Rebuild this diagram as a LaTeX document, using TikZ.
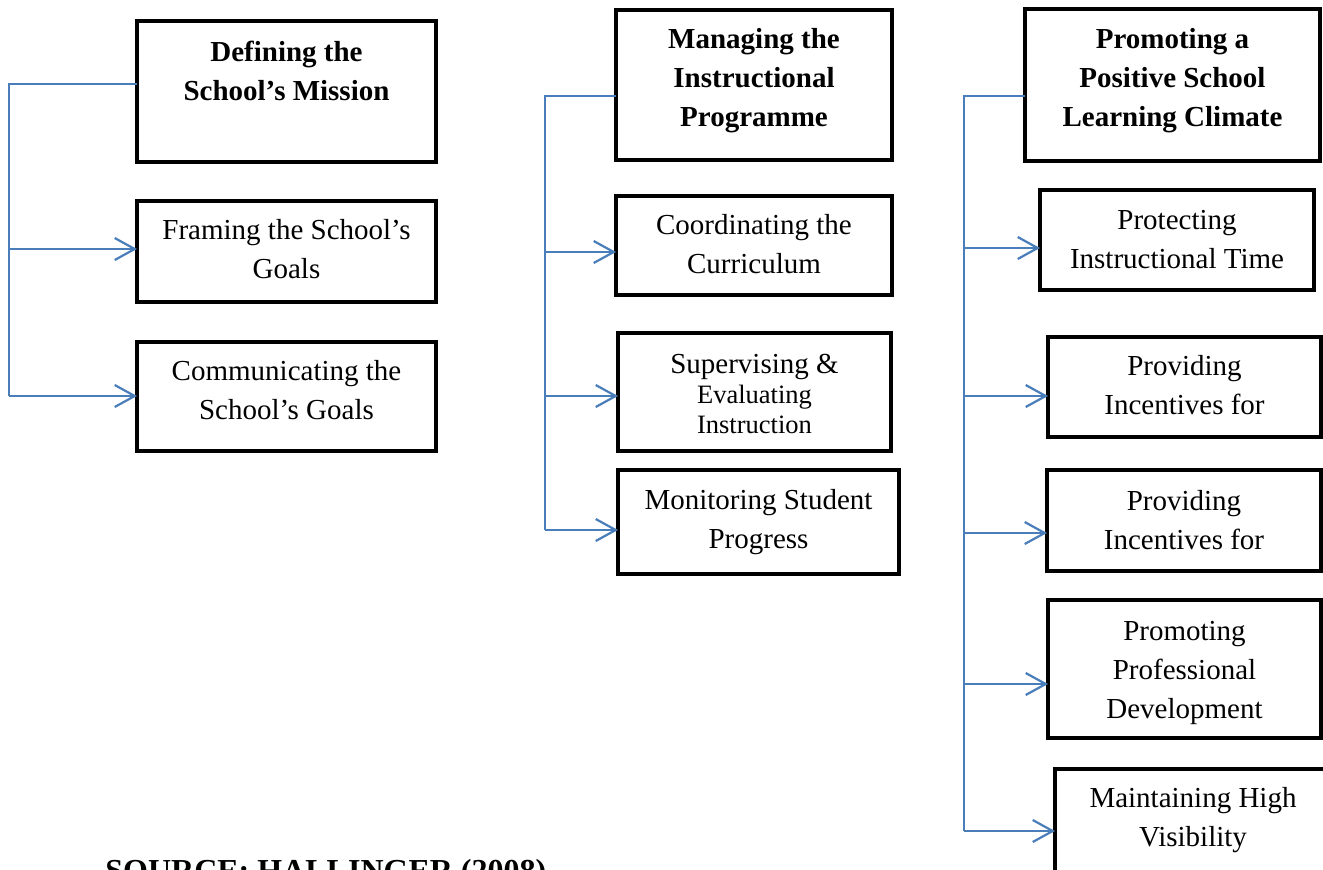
\documentclass[tikz,border=0pt]{standalone}
\usepackage{fontspec}
\setmainfont{Liberation Serif}
\usetikzlibrary{arrows.meta}
\definecolor{connblue}{HTML}{4A7EBB}
\newdimen\pxu \pxu=0.5pt
\newcommand{\bt}[4]{\parbox[t][#2\pxu][t]{#1\pxu}{\centering\rule{0pt}{#3\pxu}#4}}
\tikzset{
  bx/.style={draw=black, line width=2.4pt, inner sep=0pt, outer sep=0pt, anchor=north west,
    font=\fontsize{14.5}{19.5}\selectfont},
  hd/.style={bx, font=\bfseries\fontsize{14.5}{19.5}\selectfont},
  trunk/.style={draw=connblue, line width=1.1pt},
  arr/.style={draw=connblue, line width=1.1pt, -{Straight Barb[length=10pt,width=11pt]}},
}
\begin{document}
\begin{tikzpicture}[x=0.5pt,y=-0.5pt]
\useasboundingbox (0,0) rectangle (1323,869);
\clip (0,0) rectangle (1323,869);
% left column
\node[hd] (A) at (137,21)  {\bt{299}{141}{40}{Defining the\\School’s Mission}};
\node[bx] (B) at (137,201) {\bt{299}{101}{38}{Framing the School’s\\Goals}};
\node[bx] (C) at (137,342) {\bt{299}{109}{38}{Communicating the\\School’s Goals}};
% middle column
\node[hd] (D) at (616,10)  {\bt{276}{150}{38}{Managing the\\Instructional\\Programme}};
\node[bx] (E) at (616,196) {\bt{276}{99}{38}{Coordinating the\\Curriculum}};
\node[bx] (F) at (618,333) {\bt{273}{118}{40}{Supervising \&\\\fontsize{13.25}{15}\selectfont Evaluating\\Instruction}};
\node[bx] (G) at (618,470) {\bt{281}{104}{39}{Monitoring Student\\Progress}};
% right column
\node[hd] (H) at (1025,9)   {\bt{295}{152}{39}{Promoting a\\Positive School\\Learning Climate}};
\node[bx] (I) at (1040,190) {\bt{274}{100}{39}{Protecting\\Instructional Time}};
\node[bx] (J) at (1048,337) {\bt{273}{100}{38}{Providing\\Incentives for}};
\node[bx] (K) at (1047,470) {\bt{274}{101}{40}{Providing\\Incentives for}};
\node[bx] (L) at (1048,600) {\bt{273}{138}{40}{Promoting\\Professional\\Development}};
\node[bx] (M) at (1055,769) {\bt{276}{130}{38}{Maintaining High\\Visibility}};
% source
\node[anchor=base west, inner sep=0pt, font=\bfseries\fontsize{16}{19}\selectfont] (src) at (105,881) {SOURCE: HALLINGER (2008)};
% connectors left
\coordinate (t1a) at (9,84);
\coordinate (t1b) at (9,249);
\coordinate (t1c) at (9,396);
\draw[trunk] (A.west |- t1a) -- (t1a) -- (t1c);
\draw[arr] (t1b) -- (t1b -| B.west);
\draw[arr] (t1c) -- (t1c -| C.west);
% connectors middle
\coordinate (t2a) at (545,96);
\coordinate (t2b) at (545,252);
\coordinate (t2c) at (545,396);
\coordinate (t2d) at (545,530);
\draw[trunk] (D.west |- t2a) -- (t2a) -- (t2d);
\draw[arr] (t2b) -- (t2b -| E.west);
\draw[arr] (t2c) -- (t2c -| F.west);
\draw[arr] (t2d) -- (t2d -| G.west);
% connectors right
\coordinate (t3a) at (964,96);
\coordinate (t3b) at (964,248);
\coordinate (t3c) at (964,396);
\coordinate (t3d) at (964,533);
\coordinate (t3e) at (964,684);
\coordinate (t3f) at (964,831);
\draw[trunk] (H.west |- t3a) -- (t3a) -- (t3f);
\draw[arr] (t3b) -- (t3b -| I.west);
\draw[arr] (t3c) -- (t3c -| J.west);
\draw[arr] (t3d) -- (t3d -| K.west);
\draw[arr] (t3e) -- (t3e -| L.west);
\draw[arr] (t3f) -- (t3f -| M.west);
\end{tikzpicture}
\end{document}
